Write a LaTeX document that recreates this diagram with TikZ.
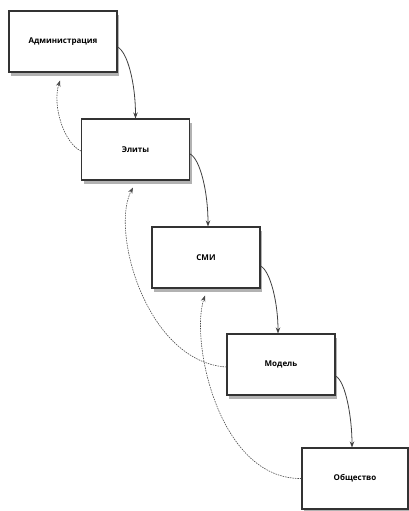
\documentclass[tikz,border=0pt]{standalone}
\usepackage{fontspec}
\setmainfont{Open Sans}
\usetikzlibrary{arrows.meta,shadows}
\begin{document}
\begin{tikzpicture}[x=1pt,y=-1pt,
  box/.style={draw=black!80,line width=1.1pt,fill=white,minimum width=108pt,minimum height=61pt,inner sep=0pt,
    font=\fontsize{8}{10}\selectfont\bfseries,
    drop shadow={shadow xshift=2pt,shadow yshift=-4pt,fill=black!30,opacity=1}},
  flow/.style={draw=black!75,line width=0.8pt,-{Stealth[length=6pt,width=4.5pt]}},
  back/.style={draw=black!70,line width=0.6pt,dash pattern=on 1.5pt off 1pt,-{Stealth[length=6pt,width=4.5pt]}}]
\useasboundingbox (0,0) rectangle (409,511);
\node[box] (adm) at (63,41.5) {Администрация};
\node[box] (elit) at (135.5,149.5) {Элиты};
\node[box] (smi) at (206,257.5) {СМИ};
\node[box] (model) at (281,364.5) {Модель};
\node[box,minimum width=106pt] (obsh) at (355,478.5) {Общество};
\coordinate (admin) at ([xshift=-3pt,yshift=-8pt]adm.south);
\coordinate (elitin) at ([xshift=-2.5pt,yshift=-7pt]elit.south);
\coordinate (smiin) at ([xshift=-1pt,yshift=-7pt]smi.south);
\draw[flow] ([yshift=-5.5pt]adm.east) .. controls +(10,5) and +(0,-35) .. (elit.north);
\draw[flow] ([yshift=-4.5pt]elit.east) .. controls +(10,5) and +(0,-35) .. ([xshift=2pt]smi.north);
\draw[flow] ([yshift=-8.5pt]smi.east) .. controls +(10,5) and +(0,-30) .. ([xshift=-3pt]model.north);
\draw[flow] ([yshift=-11.5pt]model.east) .. controls +(10,5) and +(0,-30) .. ([xshift=-3pt]obsh.north);
\draw[back] ([yshift=-1.5pt]elit.west) .. controls +(-17,-8) and +(-8,25) .. (admin);
\draw[back] ([yshift=-2.5pt]model.west) .. controls +(-80,-5) and +(-23,43) .. (elitin);
\draw[back] (obsh.west) .. controls +(-83,1) and +(-15,45) .. (smiin);
\end{tikzpicture}
\end{document}
